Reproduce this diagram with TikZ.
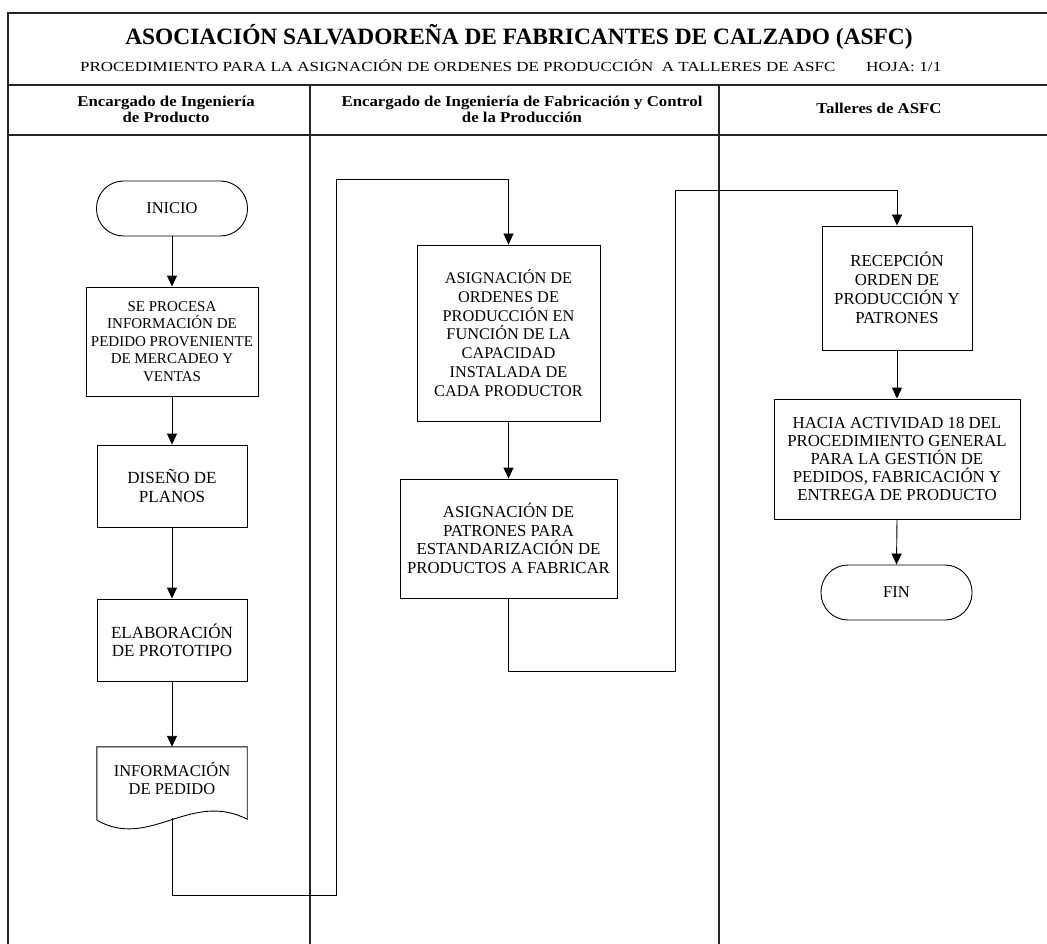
\documentclass[tikz,border=0pt]{standalone}
\usepackage{fontspec}
\setmainfont{Liberation Serif}
\usetikzlibrary{arrows.meta,calc}
% column header text: bold, slightly widened
\newcommand\lanehead[1]{\scalebox{1.12}[1]{\bfseries\fontsize{15}{16}\selectfont\begin{tabular}{@{}c@{}}#1\end{tabular}}}
\begin{document}
\begin{tikzpicture}[x=1pt,y=-1pt,
  frame/.style={line width=1.2pt, draw=black!85},
  proc/.style={draw, line width=0.9pt, rectangle, inner sep=0pt, align=center,
    font=\fontsize{16.8}{18.5}\selectfont},
  term/.style={draw, line width=0.9pt, rounded corners=27pt, inner sep=0pt,
    minimum width=151pt, minimum height=55pt, font=\fontsize{16.5}{19}\selectfont},
  flow/.style={line width=0.9pt, -{Triangle[width=10pt,length=11pt]}},
  link/.style={line width=0.9pt}
]
\useasboundingbox (0,0) rectangle (1047,944);

% sheet frame, header rows and swimlane dividers
\draw[frame] (1047,13) -- (8,13) -- (8,944);
\draw[frame] (8,85) -- (1047,85);
\draw[frame] (8,135) -- (1047,135);
\draw[frame] (310,85) -- (310,944);
\draw[frame] (719,85) -- (719,944);

% header texts
\node[anchor=base, inner sep=0pt, font=\bfseries\fontsize{23.4}{26}\selectfont] (title) at (519,45)
  {ASOCIACIÓN SALVADOREÑA DE FABRICANTES DE CALZADO (ASFC)};
\node[anchor=base west, inner sep=0pt] (subtitle) at (80,72)
  {\scalebox{1.22}[1]{\fontsize{13.9}{16}\selectfont PROCEDIMIENTO PARA LA ASIGNACIÓN DE ORDENES DE PRODUCCIÓN\ \ A TALLERES DE ASFC}};
\node[anchor=base west, inner sep=0pt] (sheet) at (866,72)
  {\scalebox{1.24}[1]{\fontsize{13.9}{16}\selectfont HOJA: 1/1}};

\node[inner sep=0pt] (lane1) at (166,111) {\lanehead{Encargado de Ingeniería\\de Producto}};
\node[inner sep=0pt] (lane2) at (522,111) {\lanehead{Encargado de Ingeniería de Fabricación y Control\\de la Producción}};
\node[inner sep=0pt] (lane3) at (879,110) {\lanehead{Talleres de ASFC}};

% lane 1: product engineering
\node[term] (inicio) at (172,208.5) {INICIO};
\node[proc, minimum width=172pt, minimum height=109pt, font=\fontsize{15}{17.4}\selectfont] (procesa) at (172,341.5)
  {SE PROCESA\\INFORMACIÓN DE\\PEDIDO PROVENIENTE\\DE MERCADEO Y\\VENTAS};
\node[proc, minimum width=150pt, minimum height=82pt, font=\fontsize{17}{18.3}\selectfont] (diseno) at (172,486)
  {DISEÑO DE\\PLANOS};
\node[proc, minimum width=150pt, minimum height=82pt, font=\fontsize{17}{18.3}\selectfont] (elab) at (172,640)
  {ELABORACIÓN\\DE PROTOTIPO};
\node[inner sep=0pt, minimum width=150pt, minimum height=62pt, align=center,
  font=\fontsize{16.5}{18}\selectfont] (doc) at (172,778) {INFORMACIÓN\\DE PEDIDO};
% document outline with wavy bottom edge
\draw[link] ($(doc.south west)+(0,11)$) -- (doc.north west) -- (doc.north east)
  -- ($(doc.south east)+(0,10)$)
  .. controls ($(doc.south east)+(-57,-19)$) and ($(doc.south west)+(53,41)$) .. ($(doc.south west)+(0,11)$);
\coordinate (docout) at ($(doc.south)+(0,9)$);

% lane 2: manufacturing engineering and production control
\node[proc, minimum width=183pt, minimum height=176pt, font=\fontsize{16.3}{18.8}\selectfont] (asigord) at (508.5,333)
  {ASIGNACIÓN DE\\ORDENES DE\\PRODUCCIÓN EN\\FUNCIÓN DE LA\\CAPACIDAD\\INSTALADA DE\\CADA PRODUCTOR};
\node[proc, minimum width=217pt, minimum height=119pt] (asigpat) at (508.5,538.5)
  {ASIGNACIÓN DE\\PATRONES PARA\\ESTANDARIZACIÓN DE\\PRODUCTOS A FABRICAR};

% lane 3: workshops
\node[proc, minimum width=150pt, minimum height=124pt, font=\fontsize{16.8}{19}\selectfont] (recep) at (897,288)
  {RECEPCIÓN\\ORDEN DE\\PRODUCCIÓN Y\\PATRONES};
\node[proc, minimum width=246pt, minimum height=120pt, font=\fontsize{16.8}{17.8}\selectfont] (hacia) at (897,459)
  {HACIA ACTIVIDAD 18 DEL\\PROCEDIMIENTO GENERAL\\PARA LA GESTIÓN DE\\PEDIDOS, FABRICACIÓN Y\\ENTREGA DE PRODUCTO};
\node[term] (fin) at (896.5,592.5) {FIN};

% flow within lanes
\draw[flow] (inicio) -- (procesa);
\draw[flow] (procesa) -- (diseno);
\draw[flow] (diseno) -- (elab);
\draw[flow] (elab.south) -- (doc.north);
\draw[flow] (asigord) -- (asigpat);
\draw[flow] (recep) -- (hacia);
\draw[flow] (hacia.south) -- (fin.north);

% hand-offs between lanes
\coordinate (l1a) at (336,895);
\coordinate (l1b) at (336,179);
\draw[flow] (docout) |- (l1a) -- (l1b) -| (asigord.north);
\coordinate (l2a) at (675,671);
\coordinate (l2b) at (675,190);
\draw[flow] (asigpat.south) |- (l2a) -- (l2b) -| (recep.north);
\end{tikzpicture}
\end{document}
